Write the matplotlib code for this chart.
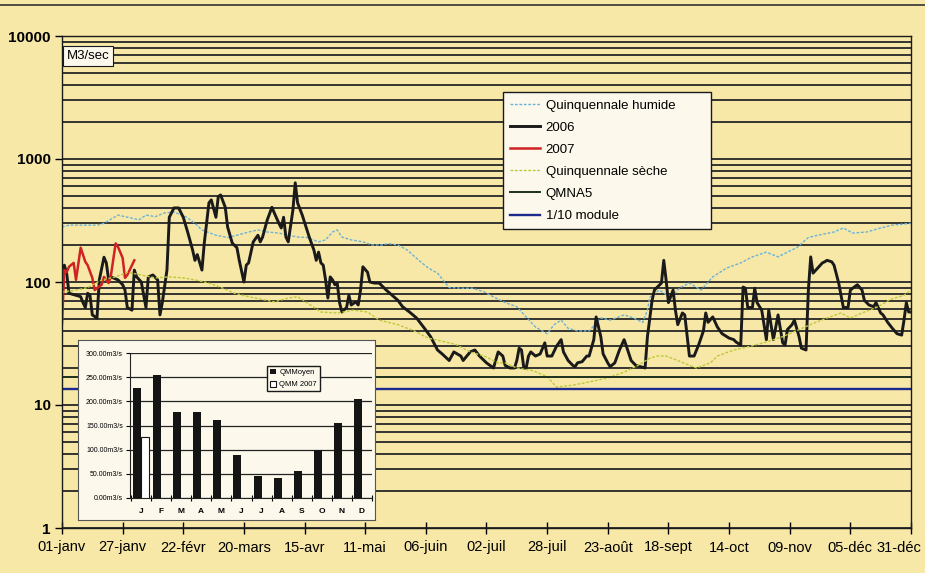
"""
Débits journaliers (log) 2006 / 2007 avec quinquennales, QMNA5 et 1/10 module,
plus un petit histogramme des QMM en encart.
"""
import matplotlib; matplotlib.use('Agg')
import matplotlib.pyplot as plt
import matplotlib.ticker as mticker
import matplotlib.transforms as mtransforms
from matplotlib.lines import Line2D
import numpy as np

plt.rcParams['font.family'] = ['Liberation Sans Narrow', 'Liberation Sans', 'DejaVu Sans']

# ---- data ----
days_2006 = [0, 1, 2, 3, 6, 8, 9, 10, 11, 12,
             13, 15, 16, 18, 19, 20, 21, 24, 26, 27,
             28, 30, 31, 32, 34, 36, 37, 39, 41, 42,
             43, 45, 46, 48, 50, 52, 54, 56, 57, 58,
             60, 61, 63, 64, 66, 67, 68, 70, 71, 73,
             75, 76, 78, 79, 80, 82, 84, 85, 86, 88,
             90, 91, 93, 94, 95, 96, 97, 99, 100, 101,
             103, 105, 106, 108, 109, 110, 111, 112, 113, 114,
             115, 116, 117, 118, 119, 120, 122, 123, 124, 126,
             127, 128, 129, 131, 132, 134, 136, 139, 144, 146,
             149, 152, 155, 158, 161, 163, 166, 168, 171, 172,
             175, 177, 179, 182, 185, 187, 189, 190, 192, 194,
             195, 196, 197, 198, 199, 200, 201, 203, 205, 207,
             208, 210, 212, 214, 215, 217, 219, 220, 221, 223,
             225, 226, 228, 229, 231, 232, 234, 235, 237, 239,
             241, 242, 244, 246, 248, 250, 251, 253, 254, 255,
             257, 258, 259, 260, 262, 263, 264, 266, 267, 269,
             271, 273, 275, 276, 277, 279, 281, 283, 286, 288,
             289, 291, 292, 293, 294, 296, 297, 298, 300, 302,
             303, 305, 307, 309, 310, 311, 313, 314, 316, 317,
             319, 320, 321, 322, 324, 326, 327, 328, 330, 331,
             333, 335, 337, 338, 339, 341, 343, 344, 346, 348,
             349, 351, 352, 354, 356, 358, 360, 361, 362, 363, 364]
q_2006 = [125, 137, 118, 81, 78, 76, 68, 62, 81, 78,
          54, 51, 104, 159, 143, 104, 110, 104, 95, 86,
          62, 59, 125, 110, 100, 62, 110, 114, 104, 54,
          68, 125, 336, 400, 400, 336, 250, 182, 150, 167,
          125, 207, 440, 465, 336, 495, 510, 405, 280, 207,
          190, 150, 100, 137, 143, 212, 240, 212, 232, 320,
          405, 365, 300, 275, 336, 232, 212, 385, 640, 440,
          350, 265, 232, 182, 150, 175, 143, 137, 104, 74,
          110, 104, 95, 98, 68, 57, 62, 78, 65, 69,
          65, 86, 133, 120, 100, 98, 98, 86, 71, 63,
          57, 51, 43, 36, 28, 26, 23, 27, 25, 23,
          27, 28, 25, 22, 20, 27, 25, 21, 20, 20,
          23, 29, 28, 20, 20, 25, 27, 25, 26, 32,
          25, 25, 30, 34, 27, 23, 21, 20.5, 22, 22.5,
          25, 25, 34, 52, 36, 26, 22, 20.5, 22, 28,
          34, 30, 23, 21, 20.5, 20, 36, 71, 86, 90,
          98, 150, 104, 68, 86, 59, 45, 56, 54, 25,
          25, 31, 40, 56, 47, 52, 43, 38, 35, 34,
          32.5, 30.7, 91, 89, 62, 62, 89, 68, 59, 34,
          59, 34, 54, 32, 30.7, 41, 45, 49, 36, 29,
          28, 86, 160, 118, 130, 143, 146, 150, 146, 137,
          98, 62, 62, 86, 89, 95, 86, 71, 65, 63,
          68, 56, 54, 47, 42, 38, 37, 49, 68, 57, 57]

days_2007 = [0, 1, 2, 3, 5, 6, 8, 10, 11, 13, 14, 15, 17, 18, 20, 21, 23, 24, 26, 27, 28, 31]
q_2007 = [46, 125, 120, 133, 143, 104, 190, 146, 137, 108, 86, 89, 95, 110, 98, 114, 206, 193, 157, 108, 114, 150]

days_hum = [0, 3, 7, 11, 15, 18, 24, 30, 33, 36,
            40, 44, 48, 53, 57, 60, 66, 71, 75, 80,
            84, 88, 93, 97, 101, 105, 110, 113, 116, 118,
            120, 124, 129, 133, 137, 140, 144, 148, 153, 157,
            161, 166, 172, 176, 181, 186, 190, 195, 199, 203,
            208, 211, 214, 217, 221, 226, 231, 235, 241, 245,
            249, 251, 252, 256, 261, 265, 269, 274, 279, 285,
            291, 296, 302, 307, 311, 315, 320, 324, 331, 335,
            339, 345, 351, 356, 364]
q_hum = [280, 290, 290, 290, 290, 300, 350, 330, 320, 350,
         340, 365, 370, 340, 300, 265, 240, 230, 240, 255,
         265, 255, 250, 240, 232, 230, 212, 220, 255, 265,
         232, 220, 212, 200, 200, 205, 200, 182, 150, 130,
         118, 90, 89, 89, 83, 74, 68, 63, 52, 43,
         38, 45, 49, 42, 40, 40, 51, 49, 54, 51,
         47, 59, 75, 86, 75, 90, 98, 86, 110, 130,
         143, 160, 175, 160, 175, 190, 230, 240, 255, 275,
         250, 255, 275, 290, 300]

days_sec = [0, 6, 11, 17, 23, 28, 34, 40, 46, 52,
            57, 63, 69, 74, 80, 86, 91, 97, 101, 105,
            111, 118, 125, 131, 136, 144, 151, 157, 163, 169,
            175, 181, 187, 190, 195, 202, 208, 212, 219, 226,
            234, 241, 247, 252, 255, 259, 264, 269, 272, 278,
            281, 288, 295, 302, 309, 316, 322, 328, 334, 338,
            344, 350, 355, 361, 364]
q_sec = [83, 86, 90, 104, 110, 120, 114, 108, 110, 108,
         104, 98, 89, 81, 76, 72, 69, 74, 76, 68,
         57, 56, 59, 57, 49, 45, 40, 35, 33, 31,
         27, 25, 22, 22, 20, 19, 17, 14, 14.5, 15.4,
         16.6, 18.5, 21, 24, 25, 25, 23, 21, 20, 22,
         25, 28, 30, 32.5, 36, 41, 46, 51, 56, 51,
         57, 63, 72, 78, 86]

QMNA5 = 16.8
MODULE_10 = 13.4

tick_days = [0, 26, 52, 78, 104, 130, 156, 182, 208, 234, 260, 286, 312, 338, 364]
tick_labels = ['01-janv', '27-janv', '22-févr', '20-mars', '15-avr', '11-mai', '06-juin',
               '02-juil', '28-juil', '23-août', '18-sept', '14-oct', '09-nov', '05-déc', '31-déc']

months = ['J', 'F', 'M', 'A', 'M', 'J', 'J', 'A', 'S', 'O', 'N', 'D']
qm_moyen = [228, 255, 178, 178, 161, 88, 46, 41, 56, 100, 155, 205]
qmm_2007 = [126]

# ---- colours ----
BG = '#f7e8a8'
PAPER = '#fcf8ec'
INK = '#1a1a1a'

fig = plt.figure(figsize=(9.25, 5.73), dpi=100, facecolor=BG)
ax = fig.add_axes([62/925, 1-528/573, 849/925, 492/573], facecolor=BG)

ax.plot(days_hum, q_hum, color='#6cb2d6', lw=1.0, ls=(0, (2, 1.2)), label='Quinquennale humide')
ax.plot(days_2006, q_2006, color=INK, lw=2.1, label='2006')
ax.plot(days_2007, q_2007, color='#cf2222', lw=1.8, label='2007')
ax.plot(days_sec, q_sec, color='#bcc93a', lw=1.0, ls=(0, (2, 1.2)), label='Quinquennale sèche')
ax.axhline(QMNA5, color='#1c301e', lw=1.4, label='QMNA5')
ax.axhline(MODULE_10, color='#1c2a8e', lw=1.7, label='1/10 module')

# axes
ax.set_yscale('log')
ax.set_ylim(1, 10000)
ax.set_xlim(0, 364)
ax.yaxis.set_major_locator(mticker.FixedLocator([1, 10, 100, 1000, 10000]))
ax.yaxis.set_major_formatter(mticker.FuncFormatter(lambda v, p: f'{v:.0f}'))
ax.yaxis.set_minor_locator(mticker.LogLocator(base=10, subs=range(2, 10)))
ax.yaxis.set_minor_formatter(mticker.NullFormatter())
ax.grid(True, axis='y', which='both', color='#262626', lw=1.3)
ax.tick_params(axis='y', which='minor', length=0)
ax.tick_params(axis='y', which='major', length=5, width=1, pad=3, labelsize=11)
for lbl in ax.get_yticklabels():
    lbl.set_fontweight('bold')

ax.set_xticks(tick_days)
ax.set_xticklabels(tick_labels, fontsize=10.5)
ax.tick_params(axis='x', direction='inout', length=8, width=1, pad=5)
# last label sits on the right edge: pull it in a little so it stays readable
last = ax.get_xticklabels()[-1]
last.set_transform(last.get_transform() + mtransforms.ScaledTranslation(-12/100, 0, fig.dpi_scale_trans))
for sp in ax.spines.values():
    sp.set_color(INK)
    sp.set_linewidth(1)

ax.text(0.0306, 0.959, 'M3/sec', transform=ax.transAxes, ha='center', va='center',
        fontsize=9.5, bbox=dict(boxstyle='square,pad=0.3', fc=PAPER, ec=INK, lw=0.8))

ax.legend(loc='upper left', bbox_to_anchor=(0.519, 0.0, 0.246, 0.886), mode='expand',
          borderaxespad=0, fontsize=9.5, fancybox=False, edgecolor=INK, facecolor=PAPER,
          framealpha=1, labelspacing=0.75, handlelength=2.3, borderpad=0.55, handletextpad=0.4)

# ---- inset: monthly means ----
box = fig.add_axes([78/925, 1-520/573, 297/925, 180/573], facecolor=PAPER)
box.set_xticks([])
box.set_yticks([])
for sp in box.spines.values():
    sp.set_color('#555555')
    sp.set_linewidth(0.8)

ins = fig.add_axes([130/925, 1-498/573, 242/925, 145/573], facecolor=PAPER)
x = np.arange(len(months))
ins.bar(x - 0.2, qm_moyen, width=0.4, color='#141414', label='QMMoyen', zorder=3)
ins.bar(x[:len(qmm_2007)] + 0.2, qmm_2007, width=0.4, color='white', edgecolor='#141414',
        lw=0.8, label='QMM 2007', zorder=3)
ins.set_xlim(-0.55, 11.45)
ins.set_ylim(0, 300)
yt = list(range(0, 301, 50))
ins.set_yticks(yt)
ins.set_yticklabels([f'{v:.2f}m3/s' for v in yt], fontsize=5)
ins.set_xticks(x)
ins.set_xticklabels(months, fontsize=6, fontweight='bold')
ins.set_xticks(np.arange(-0.5, 12, 1), minor=True)
ins.tick_params(axis='x', which='major', length=0, pad=7)
ins.tick_params(axis='x', which='minor', direction='inout', length=4, width=0.8)
ins.tick_params(axis='y', length=3, width=0.8, pad=2)
ins.grid(True, axis='y', color='#222222', lw=0.9)
ins.set_axisbelow(True)
ins.spines['top'].set_visible(False)
ins.spines['right'].set_visible(False)
ins.spines['left'].set_color('#222222')
ins.spines['bottom'].set_color('#222222')
ins.legend(loc='upper left', bbox_to_anchor=(0.55, 0.94), fontsize=5.5, fancybox=False,
           edgecolor=INK, facecolor=PAPER, framealpha=1, handlelength=0.8, handleheight=0.8,
           labelspacing=0.6, borderpad=0.4, handletextpad=0.4)

# cut-off frame line of the scanned page at the very top
fig.add_artist(Line2D([0, 1], [1 - 5/573, 1 - 5/573], color='#333333', lw=1.2,
                      transform=fig.transFigure))

fig.savefig('out.png', dpi=100, facecolor=BG)
plt.close(fig)
